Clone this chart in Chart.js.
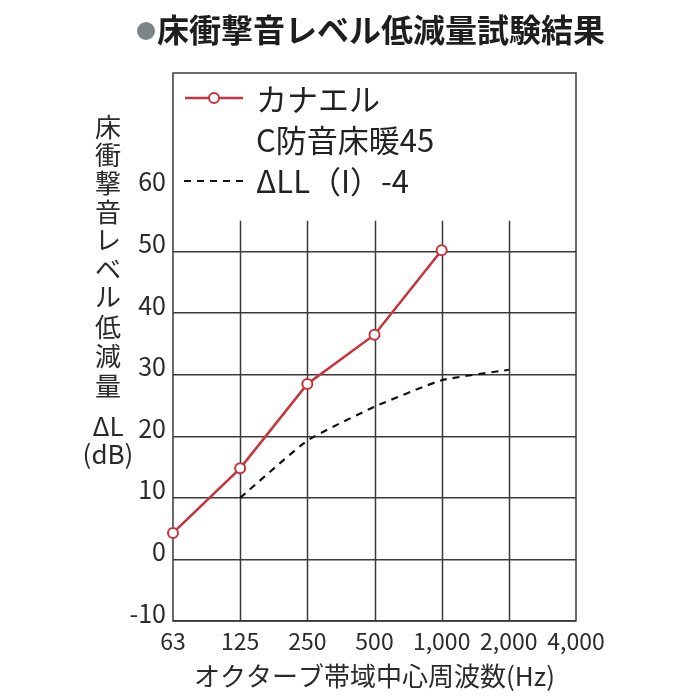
<!DOCTYPE html>
<html lang="ja">
<head>
<meta charset="utf-8">
<title>床衝撃音レベル低減量試験結果</title>
<script src="https://cdn.jsdelivr.net/npm/chart.js@4.4.1/dist/chart.umd.min.js"></script>
<style>
  html, body { margin: 0; padding: 0; background: #fff; }
  #wrap { width: 700px; height: 700px; position: relative; }
</style>
</head>
<body>
<div id="wrap"><canvas id="myChart"></canvas></div>
<script>
// --- data ---
const freqLabels = ['63', '125', '250', '500', '1,000', '2,000', '4,000'];
const kanaelValues = [4.3, 14.8, 28.5, 36.5, 50.2, null, null];
const refValues = [null, 10, 19.3, 24.8, 29.1, 30.8, null];
const yTickValues = [-10, 0, 10, 20, 30, 40, 50, 60];

const titleText = '床衝撃音レベル低減量試験結果';
const yTitleChars = ['床', '衝', '撃', '音', 'レ', 'ベ', 'ル', '低', '減', '量', 'ΔL', '(dB)'];
const xTitleText = 'オクターブ帯域中心周波数(Hz)';
const legendKanael = ['カナエル', 'C防音床暖45'];
const legendRef = 'ΔLL（I）-4';

const FONT = "'Noto Sans CJK JP', 'Noto Sans', sans-serif";
const RED = '#c8323c';
const GRID = '#3a3a3a';

// horizontal grid only up to 50, vertical grid only up to 55
const hGridMax = 50;
const vGridTop = 55;

// --- partial grid + frame, drawn under the lines ---
const framePlugin = {
    id: 'frame',
    beforeDatasetsDraw(chart) {
        const { ctx, chartArea: a, scales: { x, y } } = chart;
        ctx.save();
        ctx.strokeStyle = GRID;
        ctx.lineWidth = 1.5;
        const yTop = y.getPixelForValue(vGridTop);
        for (let i = 1; i < freqLabels.length - 1; i++) {
            const px = Math.round(x.getPixelForValue(i)) + 0.5;
            ctx.beginPath();
            ctx.moveTo(px, a.bottom);
            ctx.lineTo(px, yTop);
            ctx.stroke();
        }
        ctx.strokeRect(a.left, a.top, a.right - a.left, a.bottom - a.top);
        ctx.restore();
    },
    afterDraw(chart) {
        const { ctx } = chart;
        ctx.save();

        // heading with grey bullet
        ctx.fillStyle = '#7b8588';
        ctx.beginPath();
        ctx.arc(146, 31, 9, 0, Math.PI * 2);
        ctx.fill();
        ctx.fillStyle = '#1e1e1e';
        ctx.font = 'bold 32px ' + FONT;
        ctx.textBaseline = 'middle';
        ctx.textAlign = 'left';
        ctx.fillText(titleText, 157, 30);

        // vertical y-axis title, one char per row
        ctx.font = '26px ' + FONT;
        ctx.textAlign = 'center';
        ctx.fillStyle = '#2a2a2a';
        const rows = [127, 155, 183, 212, 240, 269, 297, 327, 356, 386, 426, 454];
        yTitleChars.forEach((c, i) => ctx.fillText(c, 108, rows[i]));

        // legend inside the plot
        const ds = chart.data.datasets;
        ctx.lineWidth = 2.5;
        ctx.strokeStyle = ds[0].borderColor;
        ctx.beginPath();
        ctx.moveTo(185, 98);
        ctx.lineTo(243, 98);
        ctx.stroke();
        ctx.fillStyle = '#fff';
        ctx.lineWidth = 2;
        ctx.beginPath();
        ctx.arc(214, 98, 5, 0, Math.PI * 2);
        ctx.fill();
        ctx.stroke();

        ctx.strokeStyle = ds[1].borderColor;
        ctx.lineWidth = 2.2;
        ctx.setLineDash(ds[1].borderDash);
        ctx.beginPath();
        ctx.moveTo(184, 181);
        ctx.lineTo(245, 181);
        ctx.stroke();
        ctx.setLineDash([]);

        ctx.fillStyle = '#222';
        ctx.font = '31px ' + FONT;
        ctx.textAlign = 'left';
        ctx.fillText(legendKanael[0], 256, 99);
        ctx.fillText(legendKanael[1], 256, 140);
        ctx.fillText(legendRef, 256, 181);

        ctx.restore();
    }
};

function createGraph() {
    const ctx = document.getElementById('myChart').getContext('2d');
    return new Chart(ctx, {
        type: 'line',
        data: {
            labels: freqLabels,
            datasets: [{
                label: legendKanael.join(' '),
                data: kanaelValues,
                borderColor: RED,
                borderWidth: 2.5,
                pointRadius: 5,
                pointBorderWidth: 2,
                pointBackgroundColor: '#fff',
                pointBorderColor: RED,
                clip: false,
                tension: 0
            }, {
                label: legendRef,
                data: refValues,
                borderColor: '#111',
                borderWidth: 2.2,
                borderDash: [7, 6],
                pointRadius: 0,
                tension: 0.15
            }]
        },
        options: {
            responsive: true,
            maintainAspectRatio: false,
            animation: false,
            layout: { padding: { left: 0, right: 124, top: 73, bottom: 0 } },
            plugins: {
                legend: { display: false },
                tooltip: { enabled: false }
            },
            scales: {
                x: {
                    type: 'category',
                    offset: false,
                    afterFit: s => { s.height = 79; },
                    grid: { display: false, drawTicks: false },
                    border: { display: false },
                    ticks: {
                        color: '#2a2a2a',
                        font: { family: FONT, size: 23 },
                        padding: 6,
                        maxRotation: 0,
                        autoSkip: false
                    },
                    title: {
                        display: true,
                        text: xTitleText,
                        color: '#2a2a2a',
                        font: { family: FONT, size: 26 },
                        padding: { top: 0, bottom: 8 }
                    }
                },
                y: {
                    min: -10,
                    max: 79,
                    afterFit: s => { s.width = 173; },
                    afterBuildTicks: s => { s.ticks = yTickValues.map(v => ({ value: v })); },
                    grid: {
                        drawTicks: false,
                        lineWidth: 1.5,
                        color: c => (c.tick && c.tick.value <= hGridMax ? GRID : 'rgba(0,0,0,0)')
                    },
                    border: { display: false },
                    ticks: {
                        color: '#2a2a2a',
                        font: { family: FONT, size: 25 },
                        padding: 7,
                        labelOffset: -8
                    }
                }
            }
        },
        plugins: [framePlugin]
    });
}

createGraph();
</script>
</body>
</html>
